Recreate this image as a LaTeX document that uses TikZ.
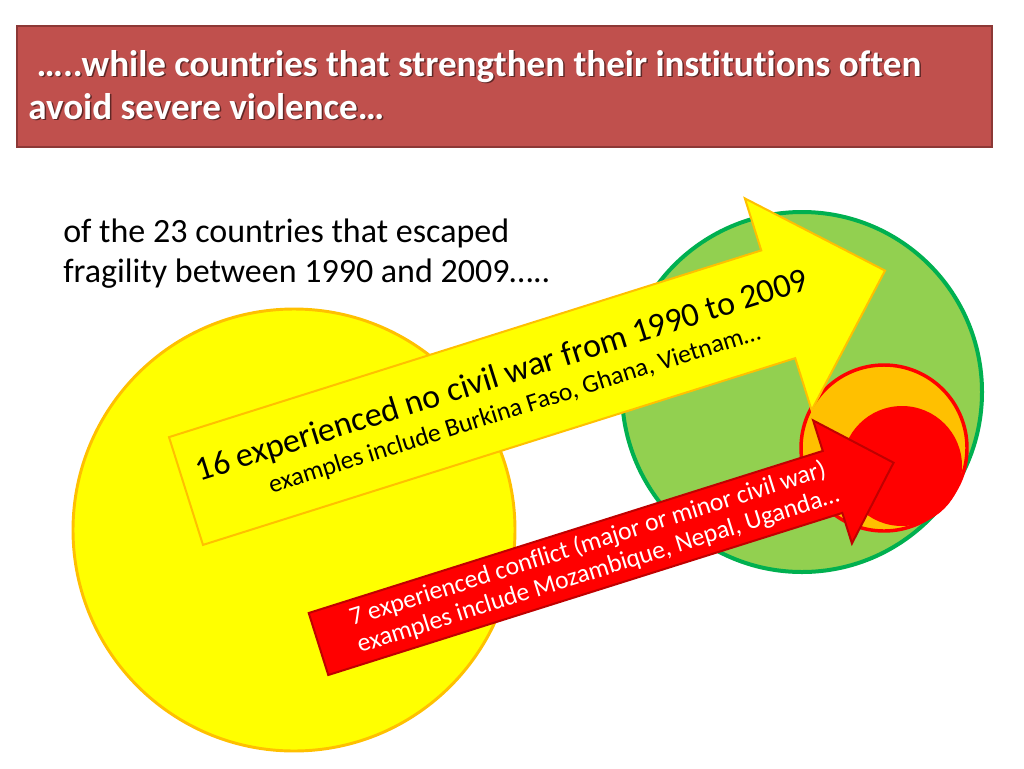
\documentclass[tikz,border=0pt]{standalone}
\usepackage{fontspec}
\setmainfont{Carlito}[Ligatures=NoCommon]
\definecolor{titlered}{HTML}{C0504D}
\definecolor{titleedge}{HTML}{8C3836}
\definecolor{ppyellow}{HTML}{FFFF00}
\definecolor{pporange}{HTML}{FFC000}
\definecolor{ppgreen}{HTML}{92D050}
\definecolor{ppdkgreen}{HTML}{00B050}
\definecolor{ppred}{HTML}{FF0000}
\definecolor{ppdkred}{HTML}{C00000}
\tikzset{
  titlebox/.style={draw=titleedge, fill=titlered, line width=1.5pt, inner sep=0pt},
  titletext/.style={text=white, font=\bfseries\fontsize{27.8}{32}\selectfont, anchor=base west, inner sep=0pt},
  titleshadow/.style={text=black, opacity=0.5, font=\bfseries\fontsize{27.8}{32}\selectfont, anchor=base west, inner sep=0pt},
  bodytext/.style={text=black, font=\fontsize{25.5}{30}\selectfont, anchor=base west, inner sep=0pt},
  yellowdisc/.style={draw=pporange, fill=ppyellow, line width=2.2pt},
  greendisc/.style={draw=ppdkgreen, fill=ppgreen, line width=3pt},
  orangedisc/.style={draw=ppred, fill=pporange, line width=2.6pt},
  reddisc/.style={fill=ppred},
  yellowarrow/.style={draw=pporange, fill=ppyellow, line width=1.5pt, line join=miter},
  redarrow/.style={draw=ppdkred, fill=ppred, line width=1.5pt, line join=miter},
  biglabel/.style={transform shape, text=black, font=\fontsize{25.5}{30}\selectfont, anchor=base, inner sep=0pt},
  smalllabel/.style={transform shape, text=black, font=\fontsize{19.2}{23}\selectfont, anchor=base, inner sep=0pt},
  redlabel/.style={transform shape, text=white, font=\fontsize{19.2}{23}\selectfont, anchor=base, inner sep=0pt}
}
\begin{document}
\begin{tikzpicture}[x=0.75pt,y=-0.75pt]
\useasboundingbox[fill=white] (0,0) rectangle (1024,768);

% title banner
\node[titlebox, anchor=north west, minimum width=731.25pt, minimum height=90.75pt] (banner) at (16,25) {};
\node[titleshadow] (t1s) at (29.5,77.5) {\ …..while countries that strengthen their institutions often};
\node[titletext] (t1) at (28,76) {\ …..while countries that strengthen their institutions often};
\node[titleshadow] (t2s) at (29.5,120.5) {avoid severe violence…};
\node[titletext] (t2) at (28,119) {avoid severe violence…};

% intro text
\node[bodytext] (intro1) at (63,242) {of the 23 countries that escaped};
\node[bodytext] (intro2) at (63,282) {fragility between 1990 and 2009…..};

% circles
\draw[yellowdisc] (294,530) circle[radius=165.75pt];
\draw[greendisc] (802,392) circle[radius=135pt];
\draw[orangedisc] (884,448) circle[radius=62.25pt];
\fill[reddisc] (902,466) circle[radius=45pt];

% yellow arrow
\begin{scope}[shift={(186,491)}, rotate=17.5]
  \draw[yellowarrow] (0,-56.5) -- (621,-56.5) -- (621,-111) -- (733,0) -- (621,111) -- (621,56.5) -- (0,56.5) -- cycle;
  \node[biglabel] (ya1) at (336,-5) {16 experienced no civil war from 1990 to 2009};
  \node[smalllabel] (ya2) at (338,28) {examples include Burkina Faso, Ghana, Vietnam…};
\end{scope}

% red arrow
\begin{scope}[shift={(318.5,644)}, rotate=17.5]
  \draw[redarrow] (0,-32.5) -- (539,-32.5) -- (539,-64.5) -- (603,0) -- (539,64.5) -- (539,32.5) -- (0,32.5) -- cycle;
  \node[redlabel] (ra1) at (287,-7) {7 experienced conflict (major or minor civil war)};
  \node[redlabel] (ra2) at (289,21) {examples include Mozambique, Nepal, Uganda…};
\end{scope}
\end{tikzpicture}
\end{document}
